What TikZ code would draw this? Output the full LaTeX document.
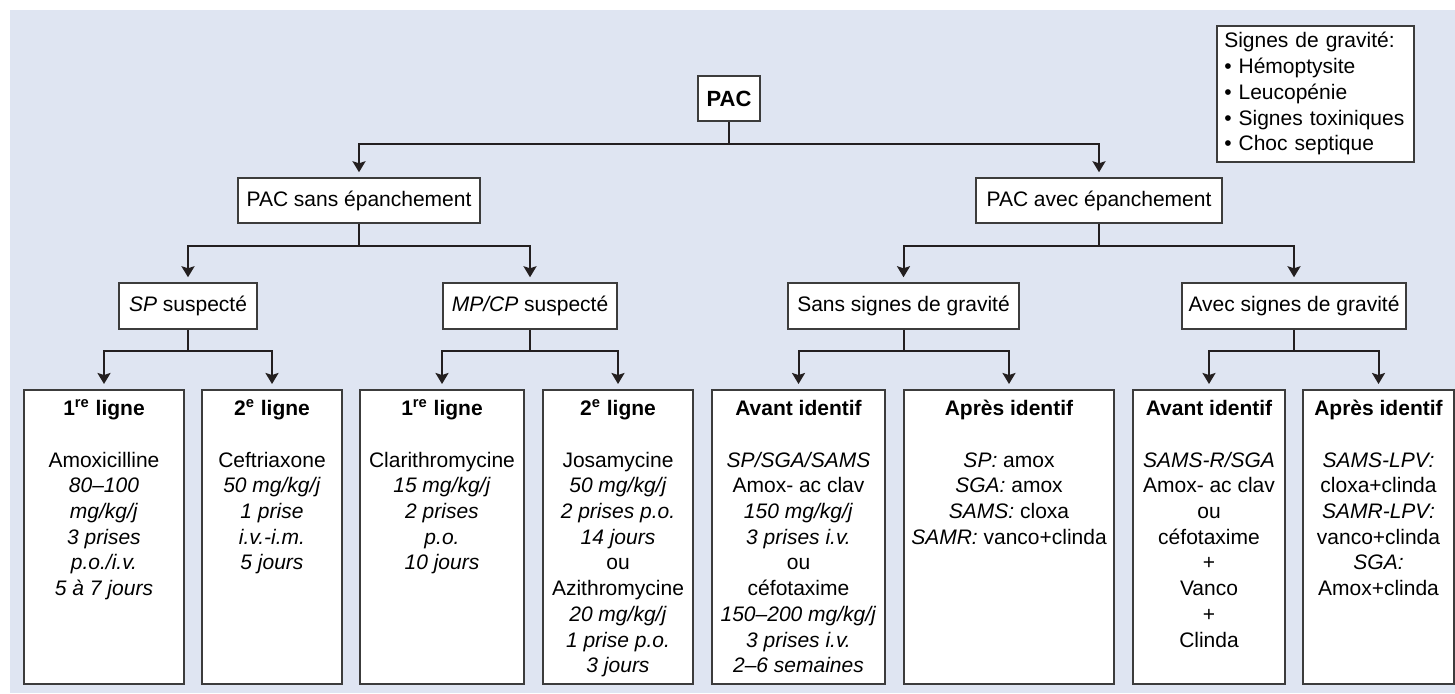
\documentclass[tikz,border=0pt]{standalone}
\usepackage{fontspec}
\setmainfont{Liberation Sans}
\usetikzlibrary{arrows.meta}
\definecolor{bgc}{RGB}{223,229,242}
\definecolor{linec}{RGB}{35,31,32}
\definecolor{boxc}{RGB}{60,60,60}
\newcommand\bcontent[2]{\parbox[t][147pt][t]{#1}{\centering\fontsize{10.5pt}{12.85pt}\selectfont\rule{0pt}{13pt}#2}}
\tikzset{
  lvl/.style={draw=boxc, fill=white, line width=0.75pt, inner sep=0pt, minimum height=22.5pt, font=\fontsize{10.5pt}{13pt}\selectfont},
  bbox/.style={draw=boxc, fill=white, line width=0.75pt, inner sep=0pt, anchor=north},
  legendbox/.style={draw=boxc, fill=white, line width=0.75pt, anchor=north west, inner xsep=3.75pt, inner ysep=0pt, text width=91pt, minimum height=68pt, align=left, font=\fontsize{10.5pt}{12.85pt}\selectfont},
  ln/.style={draw=linec, line width=1pt},
  arrboth/.style={ln, {Stealth[length=5.5pt,width=6.5pt,inset=1pt]}-{Stealth[length=5.5pt,width=6.5pt,inset=1pt]}, shorten <=2.5pt, shorten >=2.5pt}
}
\begin{document}
\begin{tikzpicture}[x=0.5pt,y=-0.5pt]
\useasboundingbox (0,0) rectangle (1455,693);
\fill[bgc] (10,10) rectangle (1455,693);

% level 0
\node[lvl, minimum width=31pt, font=\fontsize{11pt}{13pt}\selectfont\bfseries] (pac) at (729,98.5) {PAC};
% level 1
\node[lvl, minimum width=121pt] (sans) at (359,200.5) {PAC sans épanchement};
\node[lvl, minimum width=123pt] (avec) at (1099,200.5) {PAC avec épanchement};
% level 2
\node[lvl, minimum width=69pt, minimum height=23pt] (sp) at (188,306) {\textit{SP} suspecté};
\node[lvl, minimum width=87pt, minimum height=23pt] (mp) at (530,306) {\textit{MP/CP} suspecté};
\node[lvl, minimum width=115.5pt, minimum height=23pt] (ssg) at (903.5,306) {Sans signes de gravité};
\node[lvl, minimum width=112pt, minimum height=23pt] (asg) at (1294,306) {Avec signes de gravité};

% legend
\node[legendbox] (leg) at (1216,25) {\mbox{Signes de gravité:}\\
\mbox{\textbullet{} Hémoptysite}\\
\mbox{\textbullet{} Leucopénie}\\
\mbox{\textbullet{} Signes toxiniques}\\
\mbox{\textbullet{} Choc septique}};

% level 3
\node[bbox] (b1) at (104,389) {\bcontent{80pt}{\textbf{1\textsuperscript{re} ligne}\\[12.85pt]
Amoxicilline\\ \textit{80–100}\\ \textit{mg/kg/j}\\ \textit{3 prises}\\ \textit{p.o./i.v.}\\ \textit{5 à 7 jours}}};
\node[bbox] (b2) at (272,389) {\bcontent{70pt}{\textbf{2\textsuperscript{e} ligne}\\[12.85pt]
Ceftriaxone\\ \textit{50 mg/kg/j}\\ \textit{1 prise}\\ \textit{i.v.-i.m.}\\ \textit{5 jours}}};
\node[bbox] (b3) at (442,389) {\bcontent{82pt}{\textbf{1\textsuperscript{re} ligne}\\[12.85pt]
Clarithromycine\\ \textit{15 mg/kg/j}\\ \textit{2 prises}\\ \textit{p.o.}\\ \textit{10 jours}}};
\node[bbox] (b4) at (618,389) {\bcontent{75pt}{\textbf{2\textsuperscript{e} ligne}\\[12.85pt]
Josamycine\\ \textit{50 mg/kg/j}\\ \textit{2 prises p.o.}\\ \textit{14 jours}\\ ou\\ Azithromycine\\ \textit{20 mg/kg/j}\\ \textit{1 prise p.o.}\\ \textit{3 jours}}};
\node[bbox] (b5) at (798.5,389) {\bcontent{86.5pt}{\textbf{Avant identif}\\[12.85pt]
\textit{SP/SGA/SAMS}\\ Amox- ac clav\\ \textit{150 mg/kg/j}\\ \textit{3 prises i.v.}\\ ou\\ céfotaxime\\ \textit{150–200 mg/kg/j}\\ \textit{3 prises i.v.}\\ \textit{2–6 semaines}}};
\node[bbox] (b6) at (1009,389) {\bcontent{105pt}{\textbf{Après identif}\\[12.85pt]
\textit{SP:} amox\\ \textit{SGA:} amox\\ \textit{SAMS:} cloxa\\ \textit{SAMR:} vanco+clinda}};
\node[bbox] (b7) at (1209,389) {\bcontent{76pt}{\textbf{Avant identif}\\[12.85pt]
\textit{SAMS-R/SGA}\\ Amox- ac clav\\ ou\\ céfotaxime\\ +\\ Vanco\\ +\\ Clinda}};
\node[bbox] (b8) at (1378.5,389) {\bcontent{75.5pt}{\textbf{Après identif}\\[12.85pt]
\textit{SAMS-LPV:}\\ cloxa+clinda\\ \textit{SAMR-LPV:}\\ vanco+clinda\\ \textit{SGA:}\\ Amox+clinda}};

% junctions
\coordinate (j1) at (729,144);
\coordinate (j2a) at (359,246);
\coordinate (j2b) at (1099,246);
\coordinate (j3a) at (188,351);
\coordinate (j3b) at (530,351);
\coordinate (j3c) at (903.5,351);
\coordinate (j3d) at (1294,351);

% connectors
\draw[ln] (pac.south) -- (j1);
\draw[arrboth] (sans.north) |- (j1) -| (avec.north);
\draw[ln] (sans.south) -- (j2a);
\draw[arrboth] (sp.north) |- (j2a) -| (mp.north);
\draw[ln] (avec.south) -- (j2b);
\draw[arrboth] (ssg.north) |- (j2b) -| (asg.north);
\draw[ln] (sp.south) -- (j3a);
\draw[arrboth] (b1.north) |- (j3a) -| (b2.north);
\draw[ln] (mp.south) -- (j3b);
\draw[arrboth] (b3.north) |- (j3b) -| (b4.north);
\draw[ln] (ssg.south) -- (j3c);
\draw[arrboth] (b5.north) |- (j3c) -| (b6.north);
\draw[ln] (asg.south) -- (j3d);
\draw[arrboth] (b7.north) |- (j3d) -| (b8.north);
\end{tikzpicture}
\end{document}
